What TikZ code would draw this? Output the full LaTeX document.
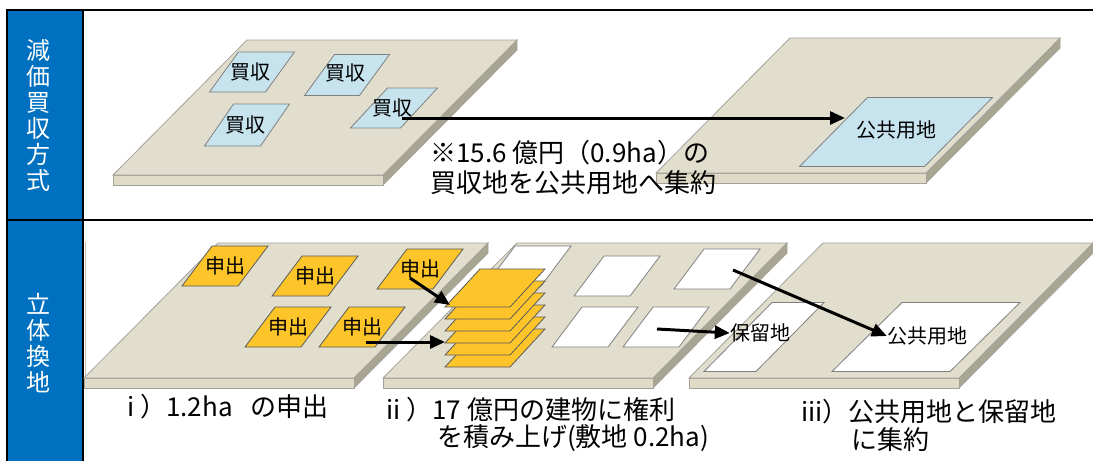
\documentclass[tikz,border=0pt]{standalone}
\usepackage{fontspec}
\setmainfont{Noto Sans CJK JP}
\usetikzlibrary{arrows.meta}

\definecolor{headblue}{HTML}{0070C0}
\definecolor{platetop}{HTML}{E1DECE}
\definecolor{platefront}{HTML}{DFDBC6}
\definecolor{plateside}{HTML}{A9A593}
\definecolor{plateedge}{HTML}{A4A29A}
\definecolor{lotblue}{HTML}{C6E3EE}
\definecolor{lotyellow}{HTML}{FDC52A}

% a plot of land seen from above at an angle: top face 270 wide, 135 deep, 10 thick
\newcommand{\landplate}[2]{%
  \filldraw[fill=plateside,draw=plateedge,line width=0.8pt] (#1+270,#2) -- (#1+136,#2+135) -- (#1+136,#2+145) -- (#1+270,#2+10) -- cycle;
  \filldraw[fill=platefront,draw=plateedge,line width=0.8pt] (#1-134,#2+135) rectangle (#1+136,#2+145);
  \filldraw[fill=platetop,draw=plateedge,line width=0.8pt] (#1,#2) -- (#1+270,#2) -- (#1+136,#2+135) -- (#1-134,#2+135) -- cycle;}

% one lot on a plate: style, centre x, centre y, width, depth, slant
\newcommand{\parcel}[6]{%
  \draw[#1] ({#2-#4/2+#6/2},{#3-#5/2}) -- ++(#4,0) -- ++(-#6,#5) -- ++(-#4,0) -- cycle;}

\begin{document}
\begin{tikzpicture}[x=1pt,y=-1pt,
  frame/.style={line width=2.2pt},
  lotlbl/.style={font=\fontsize{20}{24}\selectfont, inner sep=0pt},
  caption/.style={font=\fontsize{26}{30}\selectfont, anchor=west, inner sep=0pt},
  arr/.style={line width=3pt, -{Triangle[length=15pt,width=13pt]}},
  buylot/.style={fill=lotblue, draw=gray, line width=0.8pt},
  offerlot/.style={fill=lotyellow, draw=gray!70!black, line width=0.8pt},
  freelot/.style={fill=white, draw=gray, line width=0.8pt}]
\useasboundingbox (0,0) rectangle (1093,461);

% heading column and table rules
\fill[headblue] (7,10) rectangle (83,461);
\draw[frame] (1093,10) -- (7,10) -- (7,461);
\draw[frame] (83,10) -- (83,461);
\draw[frame] (7,220) -- (1093,220);
\node[text=white, align=center, font=\fontsize{24}{26}\selectfont] (kaishu) at (39,115) {減\\価\\買\\収\\方\\式};
\node[text=white, align=center, font=\fontsize{24}{26}\selectfont] (kanchi) at (39,343) {立\\体\\換\\地};

% upper row: scattered purchases gathered into one public lot
\landplate{247}{40}
\landplate{790}{38}
\parcel{buylot}{252}{72}{56}{40}{29}
\parcel{buylot}{347}{75}{55}{41}{30}
\parcel{buylot}{247}{125}{56}{42}{29}
\parcel{buylot}{394}{108}{50}{40}{37}
\node[lotlbl] (b1) at (250,72) {買収};
\node[lotlbl] (b2) at (345,73) {買収};
\node[lotlbl] (b3) at (245,125) {買収};
\node[lotlbl] (b4) at (392,108) {買収};
\parcel{buylot}{896}{132}{125}{69}{68}
\node[lotlbl] (pub1) at (896,130) {公共用地};
\coordinate (a1s) at (402,118);
\coordinate (a1e) at (845,118);
\draw[arr] (a1s) -- (a1e);
\node[caption] (cap1) at (430,153) {※15.6 億円（0.9ha）の};
\node[caption] (cap2) at (430,183) {買収地を公共用地へ集約};

% lower row: offered lots, stacked into the building, then regrouped
\draw[gray!50] (85,242) -- (85,387);
\landplate{218}{243}
\landplate{517}{243}
\landplate{823}{243}

\foreach \n/\cx/\cy in {1/225/266, 2/315/276, 3/420/269, 4/288/327, 5/362/327}{
  \parcel{offerlot}{\cx}{\cy}{56}{40}{30}
  \node[lotlbl] (y\n) at (\cx,\cy) {申出};
}

\foreach \cx/\cy in {528/266, 617/276, 717/269, 595/327, 666/327}
  \parcel{freelot}{\cx}{\cy}{56}{40}{30};

% the building: six floors of rights piled up
\foreach \k in {5,4,...,0}
  \parcel{offerlot}{495}{288+12*\k}{65}{38}{35};

\coordinate (r1s) at (410,278);
\coordinate (r1e) at (450,305);
\coordinate (r2s) at (366,342);
\coordinate (r2e) at (445,342);
\draw[arr] (r1s) -- (r1e);
\draw[arr] (r2s) -- (r2e);

\parcel{freelot}{764}{337}{52}{69}{68}
\parcel{freelot}{926}{337}{118}{69}{70}
\node[lotlbl] (horyu) at (760,333) {保留地};
\node[lotlbl] (pub2) at (927,336) {公共用地};
\coordinate (r3s) at (657,329);
\coordinate (r4s) at (733,270);
\draw[arr] (r3s) -- (horyu.west);
\draw[arr] (r4s) -- (pub2.west);

\node[caption] (s1) at (127,407) {i ）1.2ha\hspace{0.7em}の申出};
\node[caption] (s2a) at (386,410) {ii ）17 億円の建物に権利};
\node[caption] (s2b) at (437,438) {を積み上げ(敷地 0.2ha)};
\node[caption] (s3a) at (801,412) {iii）公共用地と保留地};
\node[caption] (s3b) at (851,440) {に集約};
\end{tikzpicture}
\end{document}
